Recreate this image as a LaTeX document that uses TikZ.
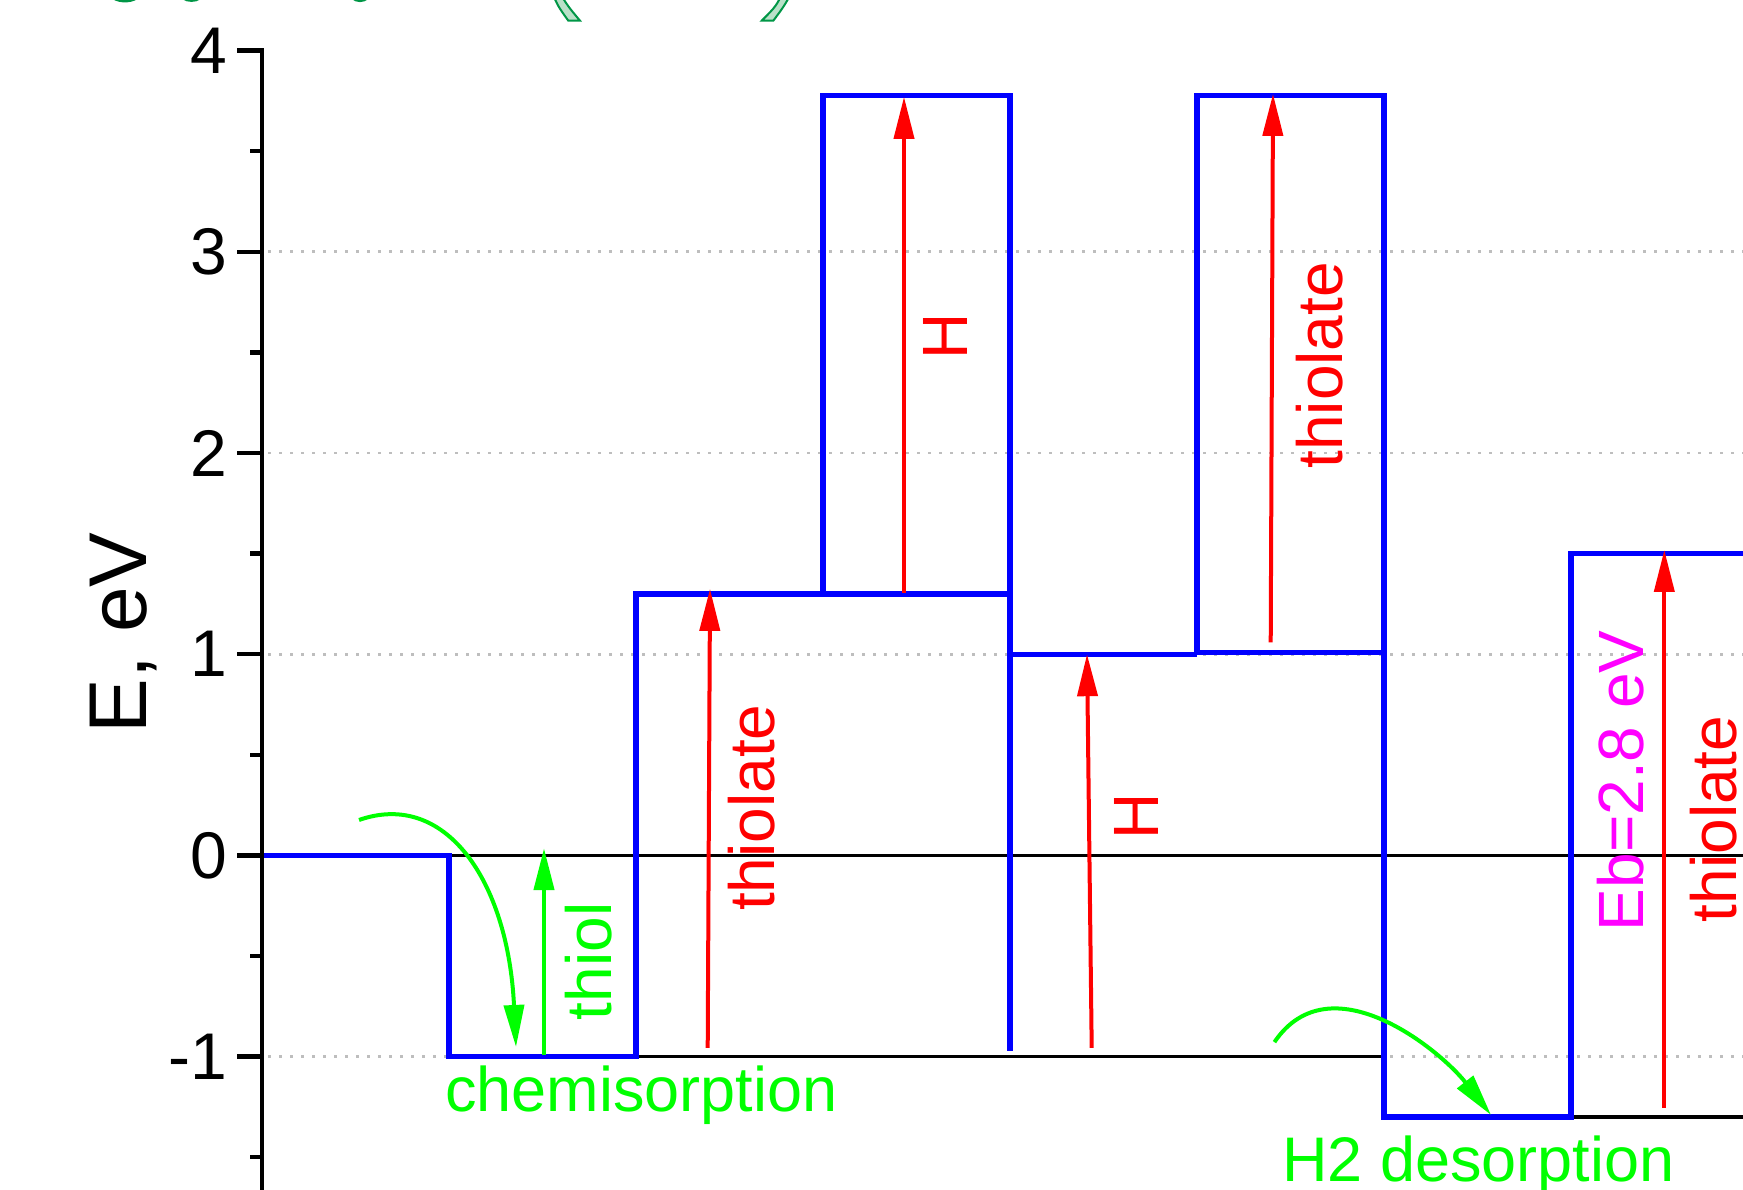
\documentclass[tikz,border=0pt]{standalone}
\usepackage{fontspec}
\setmainfont{Liberation Sans}
\usetikzlibrary{arrows.meta}

\definecolor{levelblue}{RGB}{0,0,255}
\definecolor{pathred}{RGB}{255,0,0}
\definecolor{stepgreen}{RGB}{0,255,0}
\definecolor{ebmagenta}{RGB}{255,0,255}
\definecolor{gridgray}{RGB}{190,190,190}
\definecolor{titlegreen}{RGB}{0,150,70}
\definecolor{titlefill}{RGB}{185,225,200}

\begin{document}
\begin{tikzpicture}[x=0.5pt, y=100.6pt,
  level/.style={draw=levelblue, line width=2.7pt, line join=miter},
  gridline/.style={gridgray, line width=1.4pt, dash pattern=on 1.4pt off 4.1pt},
  refline/.style={black, line width=1.7pt},
  axisline/.style={black, line width=2.2pt, line join=miter},
  tip/.style={-{Triangle[length=21pt,width=10pt]}},
  jump/.style={tip, pathred, line width=2pt},
  greenjump/.style={tip, stepgreen, line width=2.2pt},
  greencurve/.style={tip, stepgreen, line width=2pt},
  ticklabel/.style={anchor=east, inner sep=0pt, font=\fontsize{33}{33}\selectfont},
  vlabel/.style={rotate=90, anchor=base west, inner sep=0pt, font=\fontsize{32}{32}\selectfont},
  hlabel/.style={anchor=base west, inner sep=0pt, font=\fontsize{31.5}{31.5}\selectfont},
  hletter/.style={rotate=90, anchor=base, inner sep=0pt, text=pathred, font=\fontsize{32}{32}\selectfont},
  headingarc/.style={titlegreen, line width=1.2pt},
]
\useasboundingbox (0,-1.6625) rectangle (1743,4.2515);
\clip (0,-1.6625) rectangle (1743,4.2515);

% lower edges of the green outlined heading above the plot
\filldraw[fill=titlefill, draw=titlegreen, line width=1pt]
  (551,4.30) .. controls (558,4.22) .. (568.3,4.1486) -- (580,4.1486) .. controls (568,4.22) .. (558,4.30) -- cycle;
\filldraw[fill=titlefill, draw=titlegreen, line width=1pt]
  (784,4.30) .. controls (776,4.22) .. (761.7,4.1486) -- (773.3,4.1486) .. controls (784,4.22) .. (793,4.30) -- cycle;
\draw[headingarc] (113,4.262) .. controls (119,4.240) and (131,4.240) .. (137,4.262);
\draw[headingarc] (183,4.260) .. controls (188,4.244) and (195,4.244) .. (200,4.260);
\draw[headingarc] (352,4.262) .. controls (357,4.242) and (363,4.242) .. (368,4.262);

% dotted grid
\foreach \v in {3,2,1,-1} \draw[gridline] (268,\v) -- (1743,\v);

% reference levels
\draw[refline] (262,0) -- (1743,0);
\draw[refline] (636,-1) -- (1384,-1);
\draw[refline] (1571,-1.3) -- (1743,-1.3);

% energy profile
\draw[level] (262,0) -- (449,0) -- (449,-1) -- (636,-1) -- (636,1.3) -- (1010,1.3);
\draw[level] (823,1.3) -- (823,3.777) -- (1010,3.777) -- (1010,-0.972);
\draw[level] (1010,1) -- (1197,1);
\draw[level] (1384,1.008) -- (1197,1.008) -- (1197,3.777) -- (1384,3.777) -- (1384,-1.3)
  -- (1571,-1.3) -- (1571,1.5) -- (1760,1.5);

% axis with ticks
\draw[axisline] (237,4) -- (262,4) -- (262,-1.70);
\foreach \v in {3,2,1,0,-1} \draw[axisline] (237,\v) -- (262,\v);
\foreach \v in {3.5,2.5,1.5,0.5,-0.5,-1.5} \draw[axisline] (250,\v) -- (262,\v);
\node[ticklabel] (t4) at (228,4) {4};
\node[ticklabel] (t3) at (228,3) {3};
\node[ticklabel] (t2) at (228,2) {2};
\node[ticklabel] (t1) at (228,1) {1};
\node[ticklabel] (t0) at (228,0) {0};
\node[ticklabel] (tm1) at (228,-1) {-1};
\node[vlabel, font=\fontsize{41}{41}\selectfont] (ylabel) at (146.7,0.606) {E, eV};

% red transitions
\coordinate (ra0) at (707.7,-0.957); \coordinate (ra1) at (710,1.325);
\coordinate (rb0) at (904,1.305);    \coordinate (rb1) at (904,3.77);
\coordinate (rc0) at (1091.7,-0.957); \coordinate (rc1) at (1087,1.0);
\coordinate (rd0) at (1270.7,1.059); \coordinate (rd1) at (1273,3.785);
\coordinate (re0) at (1664.3,-1.255); \coordinate (re1) at (1664.3,1.518);
\draw[jump] (ra0) -- (ra1);
\draw[jump] (rb0) -- (rb1);
\draw[jump] (rc0) -- (rc1);
\draw[jump] (rd0) -- (rd1);
\draw[jump] (re0) -- (re1);

\node[vlabel, text=pathred] (thiolateA) at (774.8,-0.278) {thiolate};
\node[hletter] (hA) at (967,2.578) {H};
\node[hletter] (hB) at (1158,0.194) {H};
\node[vlabel, text=pathred] (thiolateB) at (1342.8,1.921) {thiolate};
\node[vlabel, text=pathred] (thiolateC) at (1736,-0.3335) {thiolate};
\node[vlabel, text=ebmagenta] (ebind) at (1643,-0.378) {Eb=2.8 eV};

% green steps
\coordinate (ga0) at (544,-0.992); \coordinate (ga1) at (544,0.036);
\draw[greenjump] (ga0) -- (ga1);
\coordinate (gb0) at (359,0.176); \coordinate (gb1) at (516,-0.952);
\draw[greencurve] (gb0) .. controls (445,0.326) and (508,-0.122) .. (gb1);
\coordinate (gc0) at (1274.4,-0.928); \coordinate (gc1) at (1491,-1.29);
\draw[greencurve] (gc0) .. controls (1330,-0.519) and (1440,-0.967) .. (gc1);

\node[vlabel, text=stepgreen] (thiol) at (611.4,-0.82) {thiol};
\node[hlabel, text=stepgreen] (chem) at (445,-1.2704) {chemisorption};
\node[hlabel, text=stepgreen] (desorb) at (1282,-1.621) {H2 desorption};
\end{tikzpicture}
\end{document}
